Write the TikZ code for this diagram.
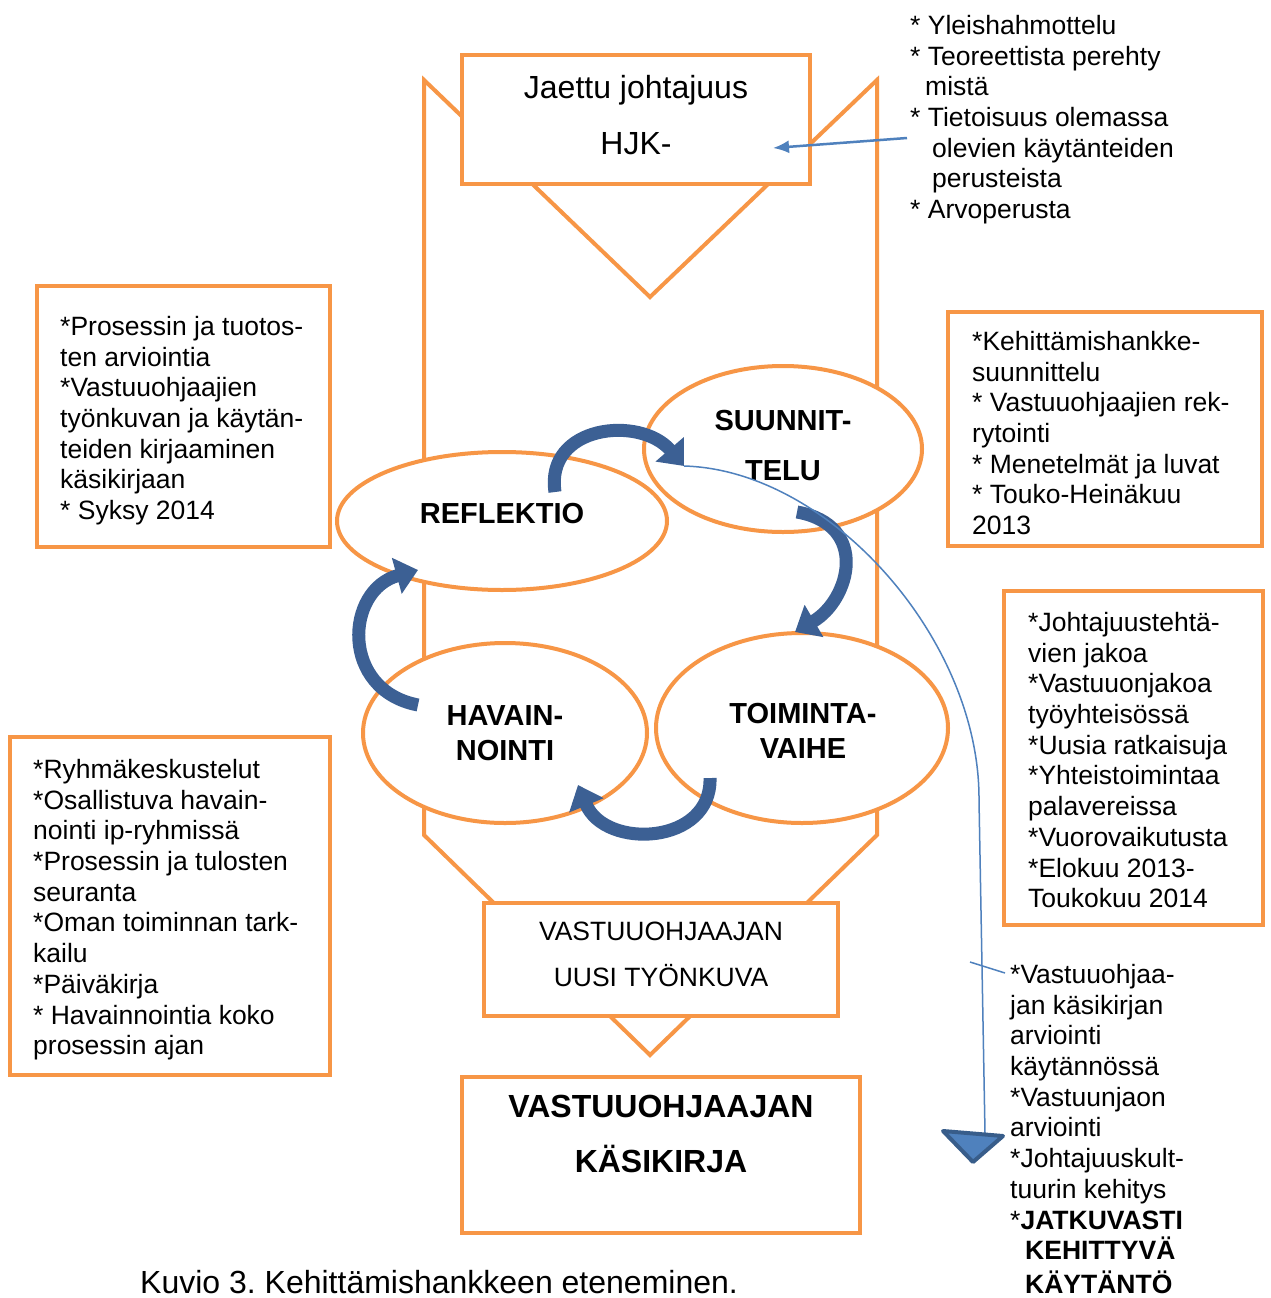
\documentclass[tikz,border=0pt]{standalone}
\usepackage{fontspec}
\setmainfont{Liberation Sans}
\usetikzlibrary{shapes.geometric,arrows.meta}
\definecolor{orng}{RGB}{247,150,70}
\definecolor{dblue}{RGB}{60,96,148}
\definecolor{lblue}{RGB}{79,129,189}
\definecolor{bordblue}{RGB}{56,93,138}
\begin{document}
\frenchspacing
\begin{tikzpicture}[x=1pt,y=-1pt,
  outl/.style={draw=orng, line width=4pt, line join=miter},
  obox/.style={rectangle, draw=orng, line width=4pt, fill=white, inner sep=0pt},
  efill/.style={ellipse, fill=white, inner sep=0pt},
  eline/.style={draw=orng, line width=4pt},
  body/.style={font=\fontsize{26.5pt}{30.7pt}\selectfont, align=left, inner sep=0pt, anchor=north west},
  lab/.style={font=\bfseries\fontsize{29pt}{35pt}\selectfont, align=center, inner sep=0pt, anchor=north},
  blk/.style={draw=dblue, line width=13pt, -{Triangle[width=36pt,length=22pt]}},
  thinl/.style={draw=lblue, line width=1.5pt},
]
\useasboundingbox (0,0) rectangle (1271,1298);
\fill[white] (0,0) rectangle (1271,1298);

% big outline
\draw[outl] (424,80) -- (650,297) -- (877,80) -- (877,835) -- (650,1055) -- (424,835) -- cycle;

% boxes
\node[obox, minimum width=348pt, minimum height=129pt] (hjk) at (636,119.5) {};
\node[obox, minimum width=354pt, minimum height=113pt] (uusi) at (661,959.5) {};
\node[obox, minimum width=398pt, minimum height=156pt] (kasi) at (661,1155) {};
\node[obox, minimum width=293pt, minimum height=261pt] (lbox1) at (183.5,416.5) {};
\node[obox, minimum width=314pt, minimum height=234pt] (rbox1) at (1105,429) {};
\node[obox, minimum width=259pt, minimum height=334pt] (rbox2) at (1133.5,758) {};
\node[obox, minimum width=320pt, minimum height=338pt] (lbox2) at (170,906) {};

% box texts
\node[font=\fontsize{32pt}{56pt}\selectfont, align=center, inner sep=0pt, anchor=north] (hjkt) at (636,75) {Jaettu johtajuus\\HJK-};
\node[font=\fontsize{26.5pt}{46pt}\selectfont, align=center, inner sep=0pt, anchor=north] (uusit) at (661,922) {VASTUUOHJAAJAN\\UUSI TYÖNKUVA};
\node[font=\bfseries\fontsize{32pt}{55pt}\selectfont, align=center, inner sep=0pt, anchor=north] (kasit) at (661,1095) {VASTUUOHJAAJAN\\KÄSIKIRJA};

\node[body] (lbox1t) at (60,316) {*Prosessin ja tuotos-\\ten arviointia\\{}*Vastuuohjaajien\\työnkuvan ja käytän-\\teiden kirjaaminen\\käsikirjaan\\{}* Syksy 2014};
\node[body] (rbox1t) at (972,331) {*Kehittämishankke-\\suunnittelu\\{}* Vastuuohjaajien rek-\\rytointi\\{}* Menetelmät ja luvat\\{}* Touko-Heinäkuu\\2013};
\node[body] (rbox2t) at (1028,612) {*Johtajuustehtä-\\vien jakoa\\{}*Vastuuonjakoa\\työyhteisössä\\{}*Uusia ratkaisuja\\{}*Yhteistoimintaa\\palavereissa\\{}*Vuorovaikutusta\\{}*Elokuu 2013-\\Toukokuu 2014};
\node[body] (lbox2t) at (33,759) {*Ryhmäkeskustelut\\{}*Osallistuva havain-\\nointi ip-ryhmissä\\{}*Prosessin ja tulosten\\seuranta\\{}*Oman toiminnan tark-\\kailu\\{}*Päiväkirja\\{}* Havainnointia koko\\prosessin ajan};

% free texts
\node[body] (toplist) at (910,15) {* Yleishahmottelu\\{}* Teoreettista perehty\\\hspace*{15pt}mistä\\{}* Tietoisuus olemassa\\\hspace*{22pt}olevien käytänteiden\\\hspace*{22pt}perusteista\\{}* Arvoperusta};
\node[body] (botlist) at (1010,964) {*Vastuuohjaa-\\jan käsikirjan\\arviointi\\käytännössä\\{}*Vastuunjaon\\arviointi\\{}*Johtajuuskult-\\tuurin kehitys\\{}*\textbf{JATKUVASTI}\\\hspace*{15pt}\textbf{KEHITTYVÄ}\\[3pt]\hspace*{15pt}\textbf{KÄYTÄNTÖ}};
\node[font=\fontsize{32pt}{36pt}\selectfont, inner sep=0pt, anchor=base west] (caption) at (140,1293) {Kuvio 3. Kehittämishankkeen eteneminen.};

% ellipses: fills
\node[efill, minimum width=330pt, minimum height=138pt] (refl) at (502,521) {};
\node[efill, minimum width=278pt, minimum height=166pt] (suun) at (783,449) {};
\node[efill, minimum width=284pt, minimum height=180pt] (hav) at (505,733) {};
\node[efill, minimum width=292pt, minimum height=190pt] (toim) at (802,728) {};
% ellipses: outlines
\draw[eline] (refl.center) ellipse [x radius=165pt, y radius=69pt];
\draw[eline] (suun.center) ellipse [x radius=139pt, y radius=83pt];
\draw[eline] (hav.center) ellipse [x radius=142pt, y radius=90pt];
\draw[eline] (toim.center) ellipse [x radius=146pt, y radius=95pt];
% ellipse labels
\node[lab] (reflt) at (502,503) {REFLEKTIO};
\node[lab, font=\bfseries\fontsize{29pt}{50pt}\selectfont] (suunt) at (783,410) {SUUNNIT-\\TELU};
\node[lab] (havt) at (505,705) {HAVAIN-\\NOINTI};
\node[lab] (toimt) at (803,703) {TOIMINTA-\\VAIHE};

% block arrows
\coordinate (a1s) at (555,492);
\coordinate (a1e) at (684,466);
\coordinate (a2s) at (797,512);
\coordinate (a2e) at (795,632);
\coordinate (a3s) at (710,778);
\coordinate (a3e) at (578,785);
\coordinate (a4s) at (418,705);
\coordinate (a4e) at (418,570);
\draw[blk] (a1s) .. controls (545,425) and (640,415) .. (a1e);
\draw[blk] (a2s) .. controls (870,525) and (850,600) .. (a2e);
\draw[blk] (a3s) .. controls (712,845) and (605,850) .. (a3e);
\draw[blk] (a4s) .. controls (340,690) and (345,590) .. (a4e);

% thin blue connector and triangle
\coordinate (tri) at (985,1133);
\coordinate (tick1) at (970,962);
\coordinate (tick2) at (1005,973);
\draw[thinl] (a1e) .. controls (830,470) and (980,640) .. (979,800) -- (tri);
\filldraw[fill=lblue, draw=bordblue, line width=4pt, line join=round] (943,1131) -- (1003,1136) -- (973,1162) -- cycle;
\draw[thinl] (tick1) -- (tick2);

% arrow to HJK box
\coordinate (hjkS) at (907,138);
\coordinate (hjkE) at (773,148);
\draw[draw=lblue, line width=2.5pt, -{Latex[length=16pt,width=13pt]}] (hjkS) -- (hjkE);
\end{tikzpicture}
\end{document}
